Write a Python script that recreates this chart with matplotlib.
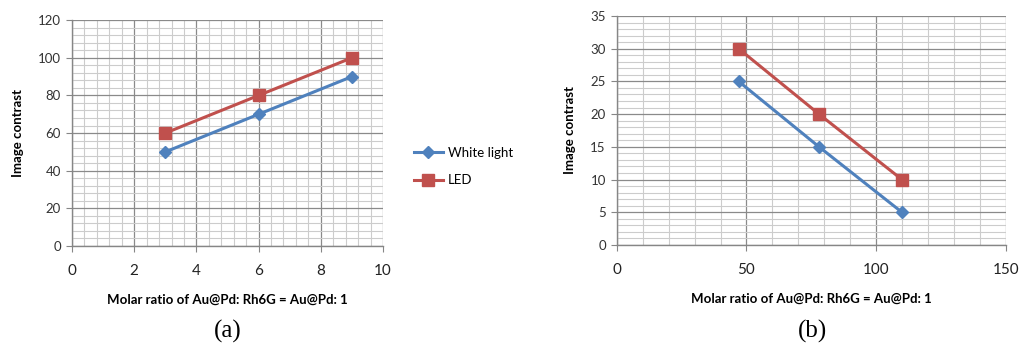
import matplotlib
matplotlib.use("Agg")
import matplotlib.pyplot as plt
from matplotlib.ticker import MultipleLocator

# Data
x_a = [3, 6, 9]
white_a = [50, 70, 90]
led_a = [60, 80, 100]

x_b = [47, 78, 110]
white_b = [25, 15, 5]
led_b = [30, 20, 10]

series_names = ["White light", "LED"]
xlabel_text = "Molar ratio of Au@Pd: Rh6G = Au@Pd: 1"
ylabel_text = "Image contrast"

BLUE = "#4F81BD"
RED = "#C0504D"
FONT = ["Lato", "DejaVu Sans"]

fig = plt.figure(figsize=(10.23, 3.47), dpi=100)

def style_axes(ax, xlim, ylim, xmaj, xmin, ymaj, ymin):
    ax.set_xlim(*xlim)
    ax.set_ylim(*ylim)
    ax.xaxis.set_major_locator(MultipleLocator(xmaj))
    ax.xaxis.set_minor_locator(MultipleLocator(xmin))
    ax.yaxis.set_major_locator(MultipleLocator(ymaj))
    ax.yaxis.set_minor_locator(MultipleLocator(ymin))
    ax.grid(which="minor", color="#cccccc", linewidth=0.8)
    ax.grid(which="major", color="#8a8a8a", linewidth=0.9)
    ax.set_axisbelow(True)
    for s in ["top", "right"]:
        ax.spines[s].set_visible(False)
    for s in ["left", "bottom"]:
        ax.spines[s].set_color("#868686")
        ax.spines[s].set_linewidth(1.0)
    ax.tick_params(which="minor", length=0)
    ax.tick_params(axis="y", which="major", length=4, color="#868686",
                   labelsize=9.5, labelcolor="#333333", pad=4)
    ax.tick_params(axis="x", which="major", length=4, color="#868686",
                   labelsize=11, labelcolor="#222222", pad=9)
    for lab in ax.get_xticklabels() + ax.get_yticklabels():
        lab.set_family(FONT)
    ax.set_xlabel(xlabel_text, fontsize=9.5, fontweight="bold", family=FONT, labelpad=11)
    ax.set_ylabel(ylabel_text, fontsize=9.5, fontweight="bold", family=FONT, labelpad=10)

# Left chart (a)
ax1 = fig.add_axes([0.0704, 0.291, 0.304, 0.651])
l1, = ax1.plot(x_a, white_a, color=BLUE, lw=2.2, marker="D", ms=6, label=series_names[0])
l2, = ax1.plot(x_a, led_a, color=RED, lw=2.2, marker="s", ms=9, label=series_names[1])
style_axes(ax1, (0, 10), (0, 120), 2, 0.4, 20, 4)

# Right chart (b)
ax2 = fig.add_axes([0.603, 0.294, 0.380, 0.660])
ax2.plot(x_b, white_b, color=BLUE, lw=2.2, marker="D", ms=6)
ax2.plot(x_b, led_b, color=RED, lw=2.2, marker="s", ms=9)
style_axes(ax2, (0, 150), (0, 35), 50, 10, 5, 1)

# Legend
leg = fig.legend(handles=[l1, l2], loc="upper left", bbox_to_anchor=(0.393, 0.612),
                 frameon=False, handlelength=2.2, handletextpad=0.4, labelspacing=1.2,
                 prop={"family": FONT, "size": 9.5})

fig.text(0.2229, 0.012, "(a)", fontsize=18, family="Liberation Serif", ha="center", va="bottom")
fig.text(0.7947, 0.012, "(b)", fontsize=18, family="Liberation Serif", ha="center", va="bottom")

fig.savefig("out.png", dpi=100)
